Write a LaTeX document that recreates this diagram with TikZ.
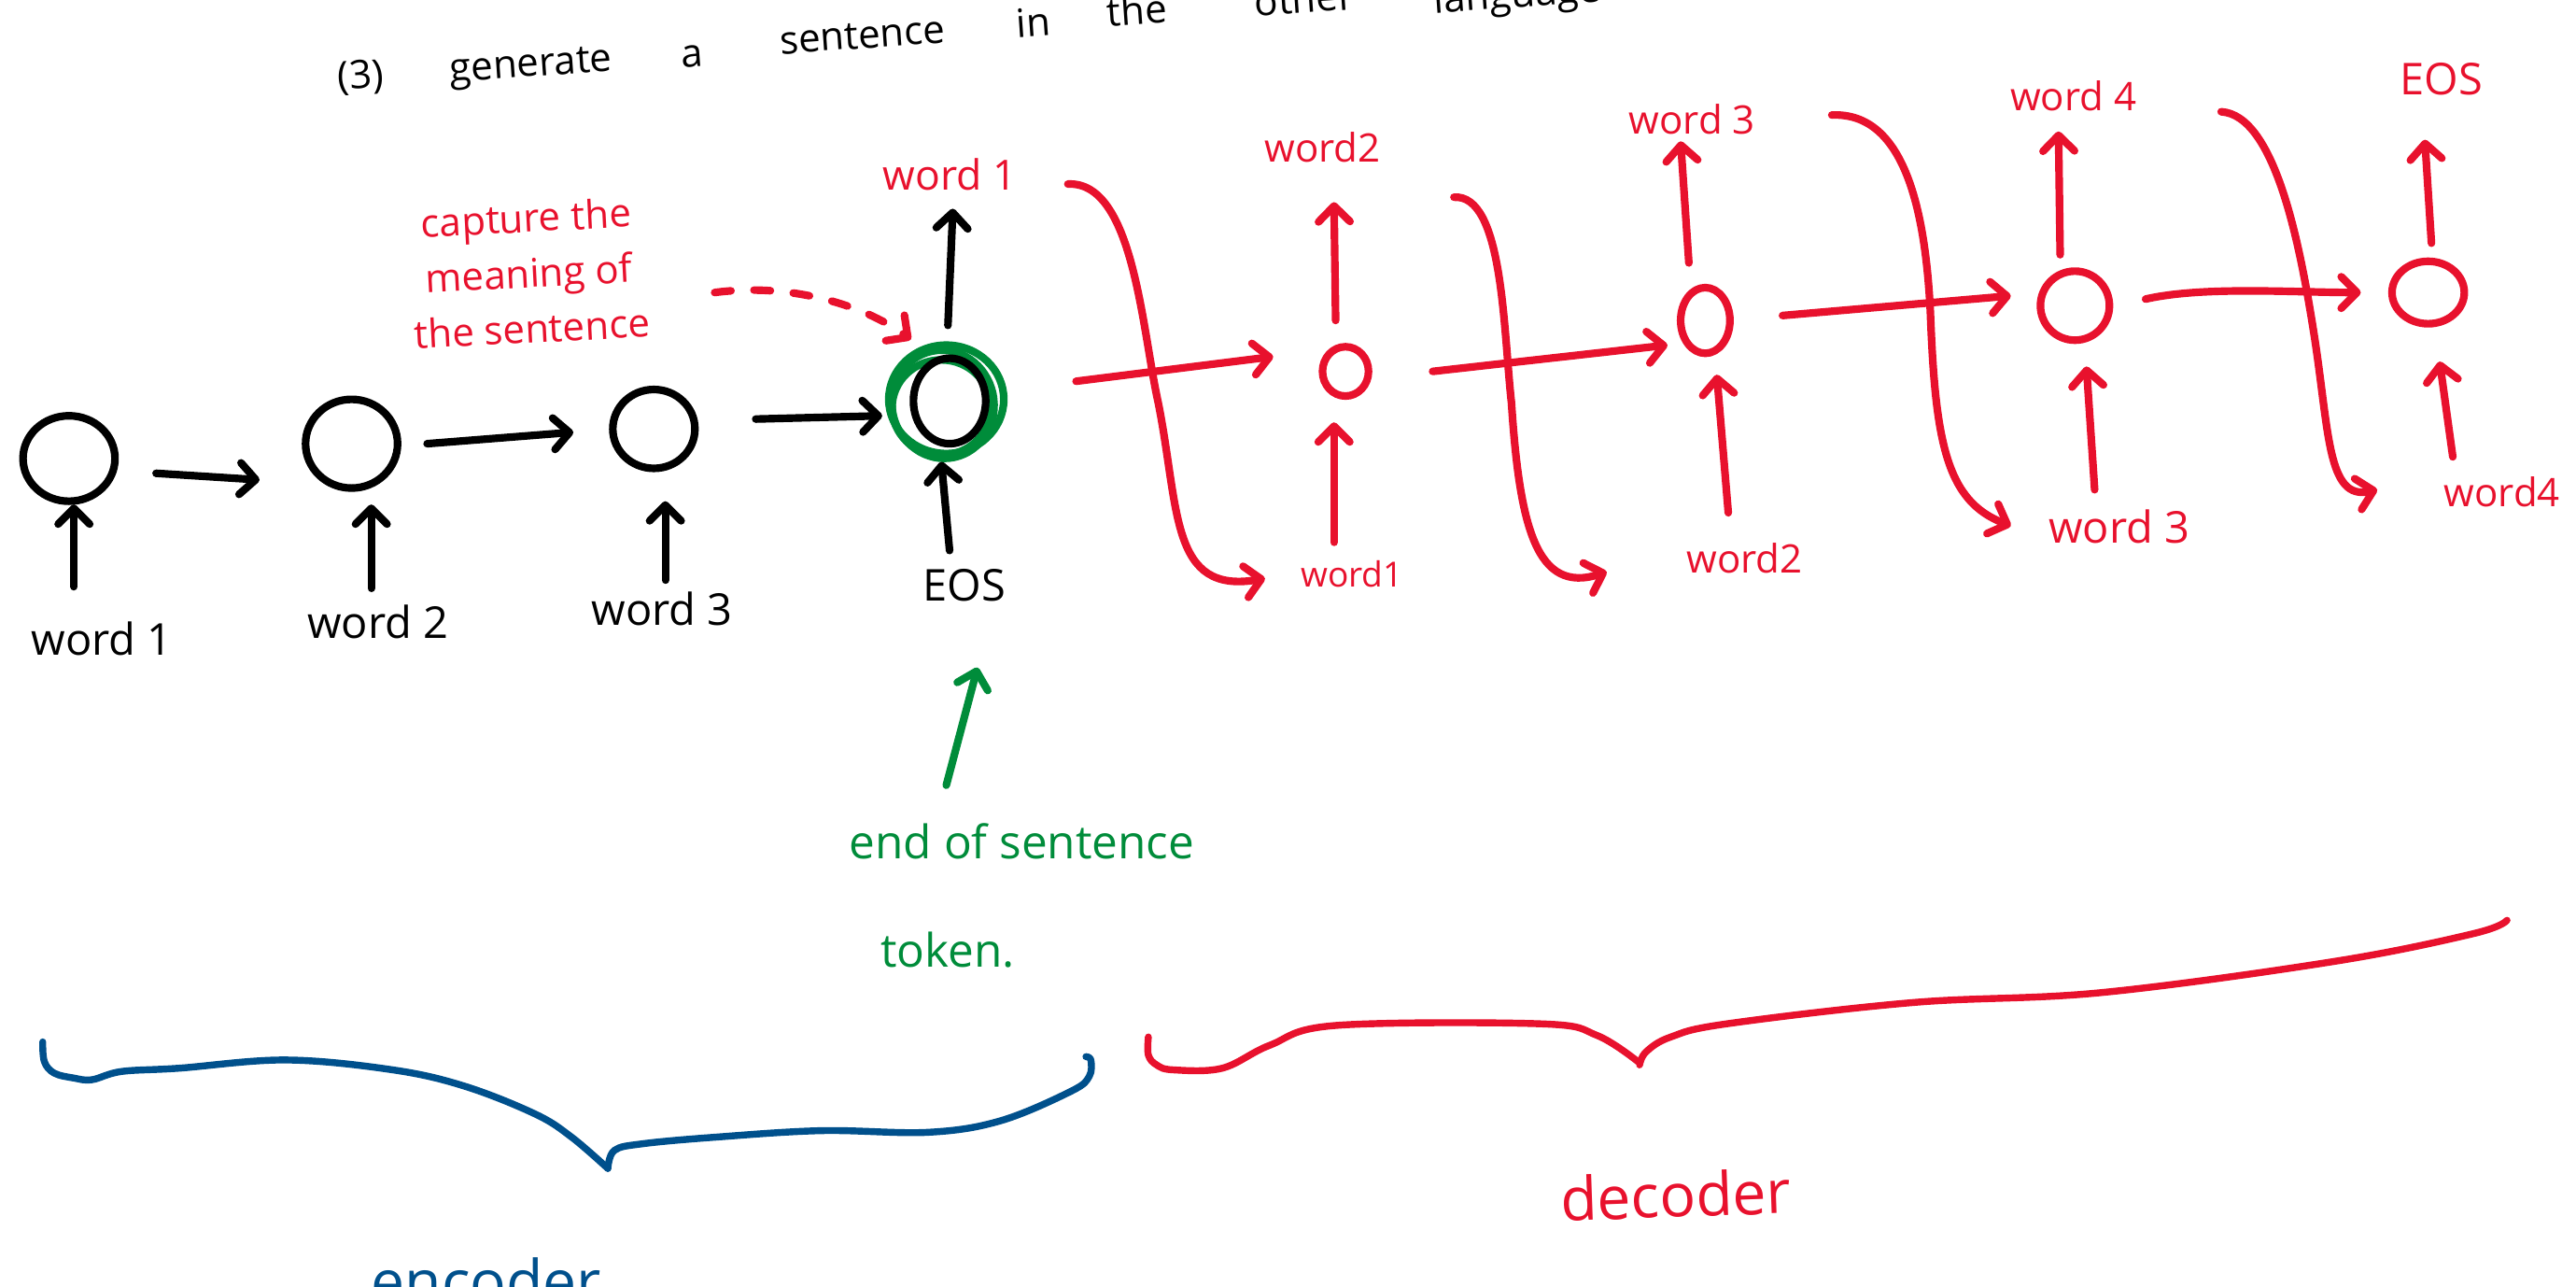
\documentclass[tikz,border=0pt]{standalone}
\usepackage{fontspec}
\setmainfont{Open Sans}
\usetikzlibrary{arrows.meta,shapes.geometric}
\definecolor{hred}{RGB}{232,17,45}
\definecolor{hgreen}{RGB}{0,140,58}
\definecolor{hblue}{RGB}{0,80,140}
\newcommand\myfs[1]{\fontsize{#1}{#1}\selectfont}
\begin{document}
\begin{tikzpicture}[x=0.25mm,y=-0.25mm,
  pen/.style={line width=3.3pt,line cap=round,line join=round},
  barr/.style={pen,-{Straight Barb[length=2.4mm,width=4.8mm,round]}},
  rarr/.style={barr,draw=hred},
  garr/.style={barr,draw=hgreen},
  encnode/.style={ellipse,draw,pen,inner sep=0pt,outer sep=0pt},
  decnode/.style={encnode,draw=hred},
  lab/.style={inner sep=0pt,font=\myfs{19}},
  rlab/.style={inner sep=0pt,font=\myfs{17},text=hred},
  titleword/.style={inner sep=0pt,font=\myfs{17},anchor=base west,rotate=4},
  bracepen/.style={line width=3pt,line cap=round,line join=round}
]
\useasboundingbox (0,0) rectangle (1568,783);
\clip (0,0) rectangle (1568,783);

% title (cut off at the top edge, as in the reference)
\node[titleword] (t1) at (206,55) {(3)};
\node[titleword] (t2) at (274,50) {generate};
\node[titleword] (t3) at (415,41) {a};
\node[titleword] (t4) at (475,33) {sentence};
\node[titleword] (t5) at (619,23) {in};
\node[titleword] (t6) at (674,16) {the};
\node[titleword] (t7) at (764,10) {other};
\node[titleword] (t8) at (873,8) {language};

% green rings around the last encoder cell
\draw[pen,draw=hgreen] (576,243) ellipse (35 and 33);
\draw[pen,draw=hgreen,rotate around={12:(574,246)}] (574,246) ellipse (31 and 33);
\draw[pen,draw=hgreen] (573,248) ellipse (30 and 29);

% encoder cells
\node[encnode,minimum width=14mm,minimum height=13mm] (c1) at (42,279) {};
\node[encnode,minimum width=14mm,minimum height=13.5mm] (c2) at (214,270) {};
\node[encnode,minimum width=12.5mm,minimum height=12mm] (c3) at (398,261) {};
\node[encnode,minimum width=11mm,minimum height=13mm] (c4) at (578,244) {};

% decoder cells
\node[decnode,minimum width=7mm,minimum height=7.5mm] (d1) at (819,226) {};
\node[decnode,minimum width=7.5mm,minimum height=10mm] (d2) at (1038,195) {};
\node[decnode,minimum width=10.5mm,minimum height=10.5mm] (d3) at (1263,186) {};
\node[decnode,minimum width=11mm,minimum height=9.5mm] (d4) at (1478,178) {};

% encoder input labels
\node[lab,anchor=north] (w1) at (62,378) {word 1};
\node[lab,anchor=north] (w2) at (230,368) {word 2};
\node[lab,anchor=north] (w3) at (403,360) {word 3};
\node[lab,anchor=north] (weos) at (587,346) {EOS};

% decoder labels
\node[rlab,anchor=south,font=\myfs{18}] (o0) at (578,116) {word 1};
\node[rlab,anchor=south] (o1) at (805,99) {word2};
\node[rlab,anchor=south] (o2) at (1030,82) {word 3};
\node[rlab,anchor=south] (o3) at (1262,68) {word 4};
\node[rlab,anchor=south,font=\myfs{19}] (o4) at (1486,58) {EOS};
\node[rlab,anchor=north,font=\myfs{15}] (i1) at (823,341) {word1};
\node[rlab,anchor=north] (i2) at (1062,330) {word2};
\node[rlab,anchor=north,font=\myfs{19}] (i3) at (1290,310) {word 3};
\node[rlab,anchor=north] (i4) at (1523,290) {word4};

% encoder arrows
\draw[barr] ([shift={(-17,-21)}]w1.north) -- ([shift={(3,2)}]c1.south);
\draw[barr] ([shift={(-4,-10)}]w2.north) -- ([shift={(12,10)}]c2.south);
\draw[barr] ([shift={(2,-7)}]w3.north) -- ([shift={(7,20)}]c3.south);
\draw[barr] ([shift={(-9,-11)}]weos.north) -- ([shift={(-5,11)}]c4.south);
\draw[barr] ([shift={(-1,-20)}]c4.north) -- ([shift={(2,11)}]o0.south);
\draw[barr] ([shift={(25,9)}]c1.east) -- ([shift={(-28,22)}]c2.west);
\draw[barr] ([shift={(18,0)}]c2.east) -- ([shift={(-24,2)}]c3.west);
\draw[barr] ([shift={(37,-6)}]c3.east) -- ([shift={(-19,9)}]c4.west);

% decoder recurrent arrows
\draw[rarr] ([shift={(55,-12)}]c4.east) -- ([shift={(-30,-9)}]d1.west);
\draw[rarr] ([shift={(39,0)}]d1.east) -- ([shift={(-8,15)}]d2.west);
\draw[rarr] ([shift={(32,-3)}]d2.east) -- ([shift={(-18,-6)}]d3.west);
\draw[rarr] ([shift={(22,-4)}]d3.east) .. controls +(35,-8) and +(-40,0) .. ([shift={(-19,0)}]d4.west);

% decoder vertical arrows
\draw[rarr] ([shift={(-6,-16)}]d1.north) -- ([shift={(7,24)}]o1.south);
\draw[rarr] ([shift={(-11,-11)}]i1.north) -- ([shift={(-7,16)}]d1.south);
\draw[rarr] ([shift={(-10,-15)}]d2.north) -- ([shift={(-7,4)}]o2.south);
\draw[rarr] ([shift={(-10,-18)}]i2.north) -- ([shift={(7,13)}]d2.south);
\draw[rarr] ([shift={(-9,-10)}]d3.north) -- ([shift={(-9,12)}]o3.south);
\draw[rarr] ([shift={(-15,-12)}]i3.north) -- ([shift={(7,16)}]d3.south);
\draw[rarr] ([shift={(2,-11)}]d4.north) -- ([shift={(-10,27)}]o4.south);
\draw[rarr] ([shift={(-30,-12)}]i4.north) -- ([shift={(7,23)}]d4.south);

% feedback curves (output fed back as next input)
\coordinate (f1) at (650,112); \coordinate (g1) at (770,352);
\coordinate (f2) at (885,120); \coordinate (g2) at (978,348);
\coordinate (f3) at (1115,70); \coordinate (g3) at (1224,320);
\coordinate (f4) at (1352,68); \coordinate (g4) at (1447,298);
\draw[rarr] (f1) .. controls (690,110) and (695,200) .. (705,245) .. controls (718,310) and (712,362) .. (g1);
\draw[rarr] (f2) .. controls (915,118) and (915,200) .. (920,245) .. controls (925,320) and (935,362) .. (g2);
\draw[rarr] (f3) .. controls (1160,68) and (1172,130) .. (1175,190) .. controls (1178,270) and (1185,305) .. (g3);
\draw[rarr] (f4) .. controls (1385,70) and (1400,150) .. (1408,200) .. controls (1418,262) and (1416,305) .. (g4);

% caption and dashed arrow
\node[inner sep=0pt,font=\fontsize{17}{24}\selectfont,text=hred,align=center,rotate=3] (cap) at (322,166) {capture the\\meaning of\\the sentence};
\coordinate (dt) at (435,178);
\draw[rarr,dash pattern=on 2.5mm off 3.5mm] (dt) .. controls (480,172) and (525,185) .. ([shift={(-8,-19)}]c4.north west);

% green annotation
\node[inner sep=0pt,font=\myfs{20},text=hgreen] (ge) at (622,512) {end of sentence};
\node[inner sep=0pt,font=\myfs{20},text=hgreen] (gt) at (577,578) {token.};
\draw[garr] ([shift={(-46,-23)}]ge.north) -- ([shift={(8,40)}]weos.south);

% braces
\draw[bracepen,draw=hblue] plot[smooth,tension=0.6] coordinates {(26,634) (27,646) (33,653) (45,656) (56,657) (74,652) (109,650) (174,645) (239,651) (283,661) (326,678) (348,692) (370,711)};
\draw[bracepen,draw=hblue] plot[smooth,tension=0.6] coordinates {(370,711) (374,700) (391,696) (435,692) (500,688) (565,689) (609,682) (652,664) (663,655) (664,645) (661,643)};
\draw[bracepen,draw=hred] plot[smooth,tension=0.6] coordinates {(699,631) (699,642) (704,648) (714,651) (744,650) (773,636) (813,624) (938,623) (972,630) (997,646)};
\draw[bracepen,draw=hred] plot[smooth,tension=0.6] coordinates {(998,648) (1002,640) (1017,631) (1051,623) (1165,610) (1279,604) (1421,585) (1506,568) (1526,560)};

\node[inner sep=0pt,font=\myfs{26},text=hred,rotate=2] (dec) at (1020,727) {decoder};
\node[inner sep=0pt,font=\myfs{26},text=hblue,anchor=base] (enc) at (296,793) {encoder};
\end{tikzpicture}
\end{document}
